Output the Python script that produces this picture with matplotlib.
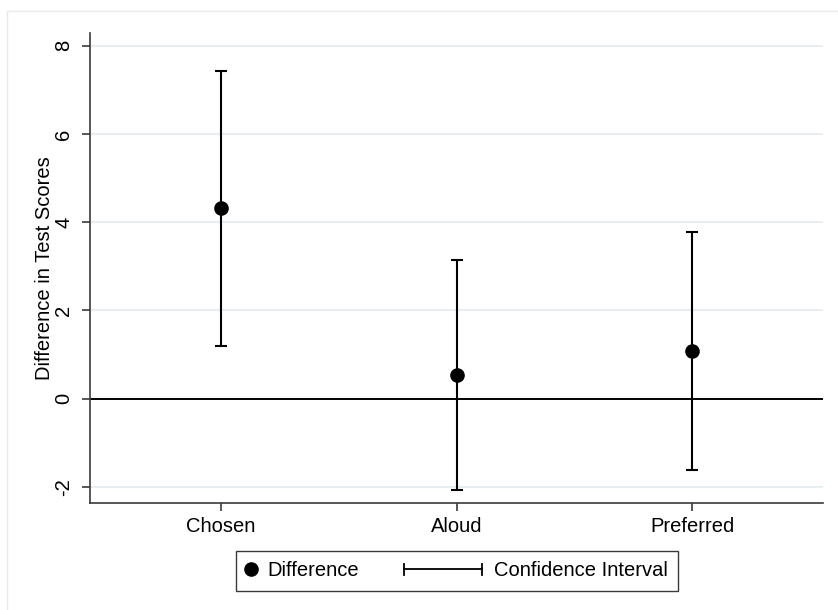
"""
Difference in test scores by condition, with confidence intervals
(Stata-style point and interval chart).
"""

import matplotlib
matplotlib.use('Agg')
import matplotlib.pyplot as plt
from matplotlib.legend_handler import HandlerBase
from matplotlib.lines import Line2D
from matplotlib.patches import Rectangle


conditions = ['Chosen', 'Aloud', 'Preferred']
difference = [4.31, 0.53, 1.08]
ci_lower = [1.20, -2.07, -1.62]
ci_upper = [7.43, 3.14, 3.78]
y_ticks = [-2, 0, 2, 4, 6, 8]

SPINE = '#3a3a3a'
GRID = '#e3edf0'


class CapLineHandler(HandlerBase):
    """Legend key drawn as a horizontal line with end caps."""

    def create_artists(self, legend, orig_handle, xdescent, ydescent,
                       width, height, fontsize, trans):
        y = height / 2 - ydescent
        x0 = -xdescent - 3.4 * fontsize
        x1 = -xdescent + width
        cap_h = 0.28 * fontsize
        parts = [([x0, x1], [y, y]),
                 ([x0, x0], [y - cap_h, y + cap_h]),
                 ([x1, x1], [y - cap_h, y + cap_h])]
        return [Line2D(xs, ys, color='black', lw=1.3, transform=trans)
                for xs, ys in parts]


def main():
    plt.rcParams['font.family'] = ['Liberation Sans', 'DejaVu Sans']
    plt.rcParams['font.size'] = 14.5

    fig = plt.figure(figsize=(8.38, 6.10), dpi=100)
    fig.patches.append(Rectangle((7 / 838, -0.1), 1.0, (610 - 11) / 610 + 0.1,
                                 transform=fig.transFigure, fill=False,
                                 edgecolor='#e6eaec', lw=1.0))
    ax = fig.add_axes([90 / 838, 107 / 610, 733 / 838, 470 / 610])

    x = list(range(1, len(conditions) + 1))
    err_low = [d - lo for d, lo in zip(difference, ci_lower)]
    err_high = [hi - d for d, hi in zip(difference, ci_upper)]

    ax.axhline(0, color='black', lw=1.4, zorder=2)
    ax.errorbar(x, difference, yerr=[err_low, err_high], fmt='none',
                ecolor='black', elinewidth=1.5, capsize=4, capthick=1.5,
                zorder=3)
    ax.plot(x, difference, 'o', color='black', markersize=9.5, zorder=4)

    ax.set_xlim(0.444, 3.556)
    ax.set_ylim(-2.37, 8.29)
    ax.set_xticks(x)
    ax.set_xticklabels(conditions)
    ax.set_yticks(y_ticks)
    ax.set_yticklabels([str(t) for t in y_ticks], rotation=90,
                       va='center')
    ax.set_ylabel('Difference in Test Scores', labelpad=0)

    ax.grid(axis='y', color=GRID, lw=1.3, zorder=0)
    ax.set_axisbelow(True)
    for side in ['top', 'right']:
        ax.spines[side].set_visible(False)
    for side in ['left', 'bottom']:
        ax.spines[side].set_color(SPINE)
        ax.spines[side].set_linewidth(1.2)
    ax.tick_params(axis='y', length=6, width=1.2, color=SPINE, pad=6)
    ax.tick_params(axis='x', length=6, width=1.2, color=SPINE, pad=4)

    dot = Line2D([], [], marker='o', color='black', linestyle='none',
                 markersize=9.5)
    ci = Line2D([], [], color='black')
    leg = fig.legend([dot, ci], ['Difference', 'Confidence Interval'],
                     handler_map={ci: CapLineHandler()},
                     loc='center', bbox_to_anchor=(457 / 838, 39 / 610),
                     ncol=2, handlelength=0.5, handletextpad=0.6,
                     columnspacing=5.6, borderpad=0.5, fancybox=False,
                     framealpha=1, edgecolor=SPINE)
    leg.get_frame().set_linewidth(1.0)

    plt.savefig('out.png', dpi=100)


if __name__ == '__main__':
    main()
